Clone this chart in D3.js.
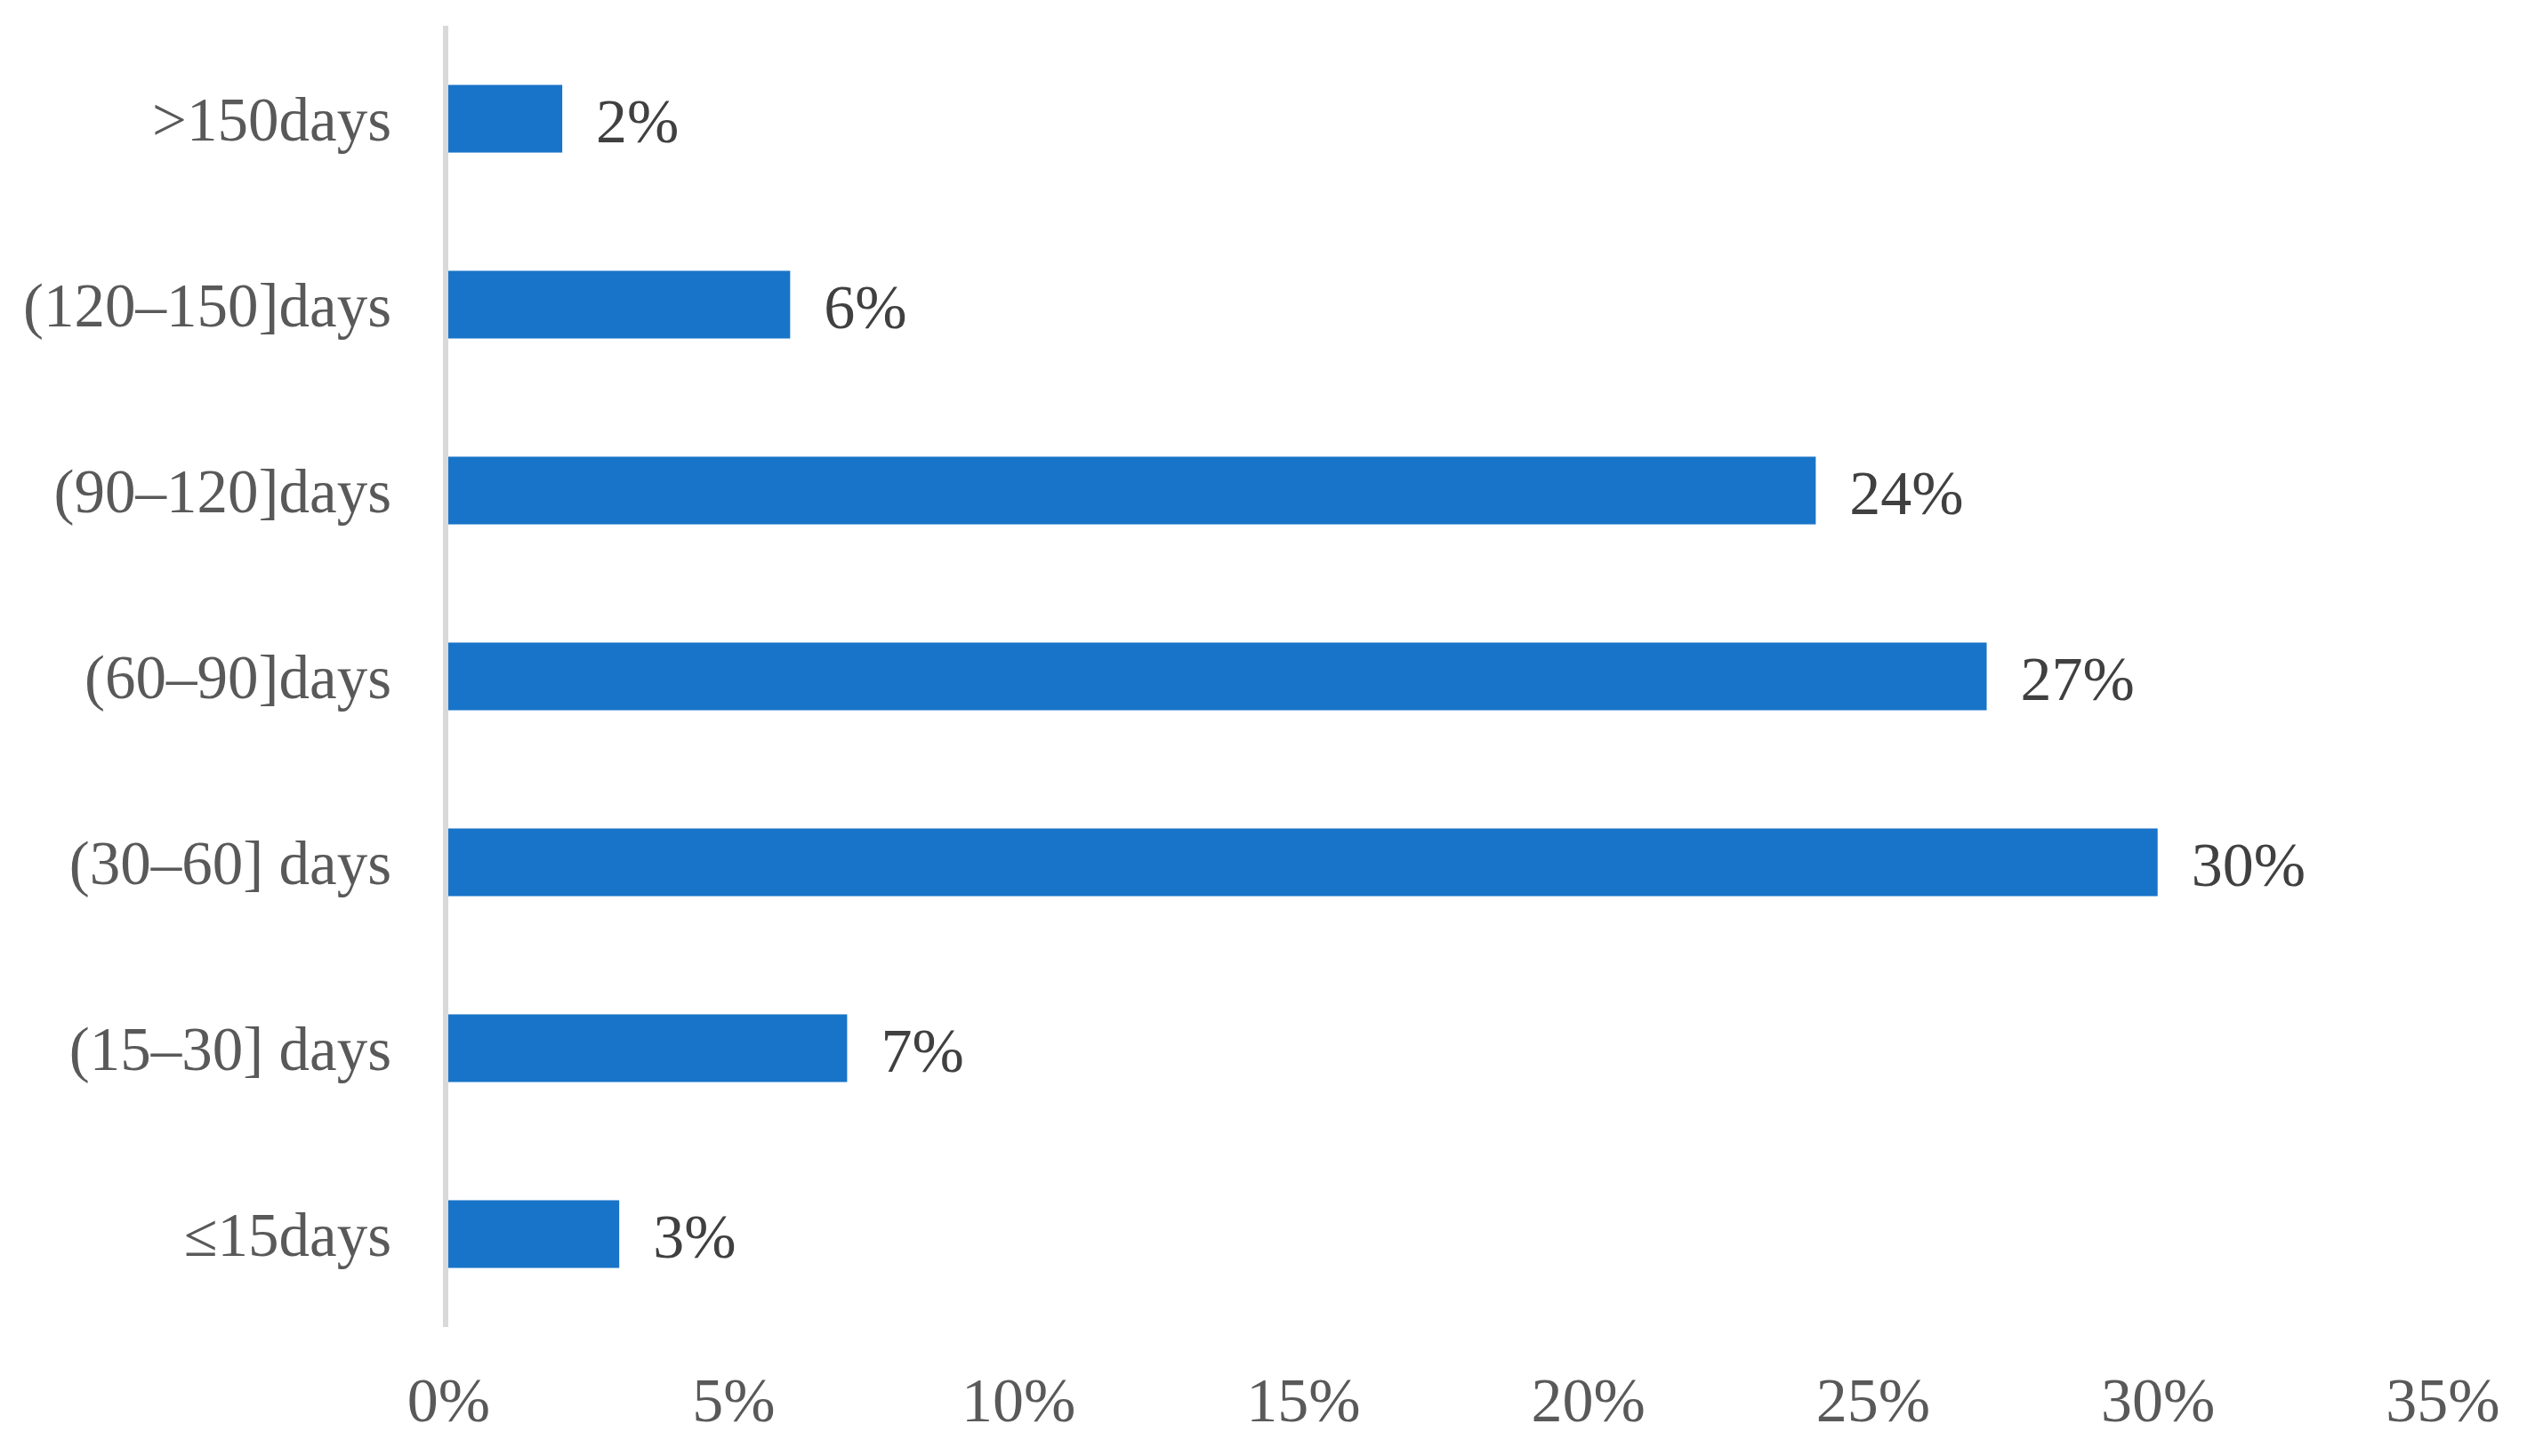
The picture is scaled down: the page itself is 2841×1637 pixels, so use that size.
<!DOCTYPE html>
<html>
<head>
<meta charset="utf-8">
<script src="https://cdn.jsdelivr.net/npm/d3@7"></script>
<style>
  html, body { margin: 0; padding: 0; background: #ffffff; }
  svg { display: block; }
</style>
</head>
<body>
<svg id="chart" width="2841" height="1637"></svg>
<script>
// Data (top to bottom as shown)
const categories = [">150days", "(120\u2013150]days", "(90\u2013120]days", "(60\u201390]days", "(30\u201360] days", "(15\u201330] days", "\u226415days"];
const values = [0.02, 0.06, 0.24, 0.27, 0.30, 0.07, 0.03];
const valueLabels = ["2%", "6%", "24%", "27%", "30%", "7%", "3%"];
const tickValues = [0, 0.05, 0.10, 0.15, 0.20, 0.25, 0.30, 0.35];
const tickLabels = ["0%", "5%", "10%", "15%", "20%", "25%", "30%", "35%"];

const svg = d3.select("#chart");
const FONT = "'Liberation Serif', 'Times New Roman', serif";

const x = d3.scaleLinear().domain([0, 0.35]).range([504, 2746]);
const y = d3.scaleBand().domain(categories).range([29, 1492]).paddingInner(0.636).paddingOuter(0.318);

// bars
svg.append("g").selectAll("rect")
  .data(categories)
  .join("rect")
  .attr("x", x(0))
  .attr("y", d => y(d))
  .attr("width", (d, i) => x(values[i]) - x(0))
  .attr("height", y.bandwidth())
  .attr("fill", "#1874c8");

// vertical axis line
svg.append("line")
  .attr("x1", 501).attr("x2", 501)
  .attr("y1", y.range()[0]).attr("y2", y.range()[1])
  .attr("stroke", "#d9d9d9").attr("stroke-width", 6);

// category labels
const yAxis = d3.axisLeft(y).tickSize(0).tickPadding(0);
const gy = svg.append("g").attr("transform", "translate(440,0)").call(yAxis);
gy.select(".domain").remove();
gy.selectAll("text")
  .attr("font-family", FONT).attr("font-size", 69)
  .attr("fill", "#595959")
  .attr("dy", null)
  .attr("y", 24)
  .attr("text-anchor", "end");

// value labels
svg.append("g").selectAll("text")
  .data(categories)
  .join("text")
  .attr("x", (d, i) => x(values[i]) + 38)
  .attr("y", d => y(d) + y.bandwidth() / 2 + 26)
  .attr("font-family", FONT).attr("font-size", 70)
  .attr("fill", "#404040")
  .text((d, i) => valueLabels[i]);

// x axis tick labels
const xAxis = d3.axisBottom(x).tickValues(tickValues).tickSize(0).tickPadding(0)
  .tickFormat((d, i) => tickLabels[i]);
const gx = svg.append("g").attr("transform", "translate(0,1598)").call(xAxis);
gx.select(".domain").remove();
gx.selectAll("text")
  .attr("font-family", FONT).attr("font-size", 70)
  .attr("fill", "#595959")
  .attr("dy", null)
  .attr("y", 0);
</script>
</body>
</html>
